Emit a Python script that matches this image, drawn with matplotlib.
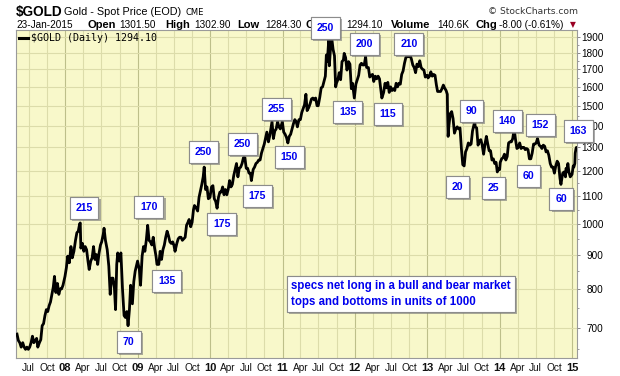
import pandas as pd
import matplotlib
matplotlib.use("Agg")
import matplotlib.pyplot as plt
import matplotlib.patheffects as pe
from matplotlib.lines import Line2D
from matplotlib.ticker import FixedLocator, NullFormatter

# ── gold spot (month-day, price) ────────────────────────────────────────────
gold_2007 = [("05-03", 685), ("05-10", 670), ("05-17", 665), ("05-24", 655), ("06-01", 665),
             ("06-08", 655), ("06-15", 650), ("06-22", 655), ("06-29", 650), ("07-06", 655),
             ("07-13", 665), ("07-20", 680), ("07-27", 665), ("08-03", 670), ("08-10", 675),
             ("08-16", 655), ("08-24", 665), ("08-31", 672), ("09-07", 705), ("09-14", 710),
             ("09-21", 730), ("09-28", 745), ("10-05", 740), ("10-12", 755), ("10-19", 765),
             ("10-26", 785), ("11-02", 805), ("11-08", 835), ("11-15", 790), ("11-23", 815),
             ("11-30", 785), ("12-07", 800), ("12-14", 800), ("12-21", 810), ("12-31", 835)]
gold_2008 = [("01-07", 860), ("01-14", 895), ("01-22", 875), ("01-30", 925), ("02-06", 890),
             ("02-14", 910), ("02-22", 945), ("02-29", 970), ("03-07", 975), ("03-14", 1000),
             ("03-17", 1003), ("03-20", 920), ("03-28", 935), ("04-04", 910), ("04-11", 925),
             ("04-18", 915), ("04-25", 880), ("05-01", 855), ("05-09", 880), ("05-16", 890),
             ("05-23", 925), ("05-30", 885), ("06-06", 900), ("06-13", 870), ("06-20", 905),
             ("06-27", 930), ("07-03", 940), ("07-11", 965), ("07-15", 985), ("07-22", 945),
             ("07-31", 915), ("08-08", 865), ("08-15", 785), ("08-22", 830), ("08-29", 830),
             ("09-05", 805), ("09-11", 745), ("09-17", 870), ("09-22", 905), ("09-30", 880),
             ("10-08", 905), ("10-16", 800), ("10-24", 730), ("10-31", 725), ("11-07", 740),
             ("11-13", 705), ("11-20", 745), ("11-26", 810), ("12-05", 760), ("12-12", 820),
             ("12-19", 850), ("12-31", 880)]
gold_2009 = [("01-09", 855), ("01-15", 810), ("01-23", 895), ("01-30", 925), ("02-06", 910),
             ("02-13", 945), ("02-20", 995), ("02-27", 945), ("03-06", 940), ("03-13", 930),
             ("03-20", 955), ("03-27", 920), ("04-03", 895), ("04-08", 870), ("04-17", 870),
             ("04-24", 910), ("05-01", 885), ("05-08", 915), ("05-15", 930), ("05-22", 955),
             ("05-29", 975), ("06-05", 960), ("06-12", 940), ("06-19", 935), ("06-26", 940),
             ("07-02", 930), ("07-08", 910), ("07-17", 935), ("07-24", 950), ("07-31", 955),
             ("08-07", 955), ("08-14", 945), ("08-21", 950), ("08-28", 955), ("09-04", 995),
             ("09-11", 1005), ("09-17", 1015), ("09-25", 990), ("10-02", 1005), ("10-09", 1050),
             ("10-14", 1065), ("10-23", 1055), ("10-30", 1045), ("11-06", 1095), ("11-13", 1120),
             ("11-20", 1145), ("11-27", 1175), ("12-02", 1215), ("12-09", 1125), ("12-16", 1135),
             ("12-23", 1090), ("12-31", 1095)]
gold_2010 = [("01-08", 1135), ("01-15", 1140), ("01-22", 1090), ("01-29", 1080), ("02-05", 1055),
             ("02-12", 1095), ("02-19", 1115), ("02-26", 1115), ("03-05", 1135), ("03-12", 1105),
             ("03-19", 1125), ("03-26", 1105), ("04-02", 1125), ("04-09", 1160), ("04-16", 1135),
             ("04-23", 1145), ("04-30", 1180), ("05-07", 1205), ("05-14", 1230), ("05-21", 1175),
             ("05-28", 1210), ("06-04", 1215), ("06-11", 1230), ("06-18", 1255), ("06-25", 1255),
             ("07-02", 1210), ("07-09", 1210), ("07-16", 1190), ("07-23", 1190), ("07-28", 1160),
             ("08-06", 1205), ("08-13", 1215), ("08-20", 1230), ("08-27", 1235), ("09-03", 1245),
             ("09-10", 1245), ("09-17", 1275), ("09-24", 1295), ("10-01", 1315), ("10-08", 1345),
             ("10-14", 1370), ("10-22", 1325), ("10-29", 1355), ("11-05", 1395), ("11-09", 1420),
             ("11-16", 1340), ("11-23", 1375), ("11-30", 1385), ("12-07", 1420), ("12-14", 1395),
             ("12-21", 1385), ("12-31", 1420)]
gold_2011 = [("01-07", 1370), ("01-14", 1360), ("01-21", 1345), ("01-28", 1320), ("02-04", 1350),
             ("02-11", 1360), ("02-18", 1385), ("02-25", 1410), ("03-04", 1430), ("03-11", 1420),
             ("03-17", 1395), ("03-25", 1430), ("04-01", 1430), ("04-08", 1465), ("04-15", 1485),
             ("04-22", 1505), ("04-29", 1560), ("05-05", 1475), ("05-13", 1490), ("05-20", 1510),
             ("05-27", 1535), ("06-03", 1540), ("06-10", 1530), ("06-17", 1540), ("06-24", 1500),
             ("06-30", 1500), ("07-08", 1545), ("07-15", 1595), ("07-22", 1600), ("07-29", 1630),
             ("08-05", 1660), ("08-10", 1785), ("08-15", 1745), ("08-22", 1880), ("08-25", 1720),
             ("08-31", 1825), ("09-06", 1895), ("09-13", 1820), ("09-20", 1780), ("09-26", 1600),
             ("09-30", 1620), ("10-07", 1640), ("10-14", 1680), ("10-21", 1640), ("10-28", 1745),
             ("11-04", 1755), ("11-08", 1795), ("11-15", 1770), ("11-22", 1695), ("11-30", 1745),
             ("12-07", 1730), ("12-14", 1590), ("12-20", 1620), ("12-29", 1540)]
gold_2012 = [("01-06", 1615), ("01-13", 1640), ("01-20", 1665), ("01-27", 1725), ("02-03", 1735),
             ("02-10", 1725), ("02-17", 1725), ("02-24", 1775), ("02-29", 1710), ("03-09", 1710),
             ("03-16", 1655), ("03-23", 1665), ("03-30", 1670), ("04-05", 1630), ("04-13", 1660),
             ("04-20", 1645), ("04-27", 1660), ("05-04", 1645), ("05-11", 1585), ("05-16", 1540),
             ("05-25", 1570), ("06-01", 1620), ("06-08", 1595), ("06-15", 1625), ("06-22", 1570),
             ("06-29", 1600), ("07-06", 1580), ("07-13", 1590), ("07-20", 1580), ("07-27", 1620),
             ("08-03", 1600), ("08-10", 1620), ("08-17", 1615), ("08-24", 1670), ("08-31", 1690),
             ("09-07", 1735), ("09-14", 1770), ("09-21", 1775), ("09-28", 1775), ("10-04", 1790),
             ("10-12", 1760), ("10-19", 1725), ("10-26", 1710), ("11-02", 1680), ("11-09", 1730),
             ("11-16", 1715), ("11-23", 1750), ("11-30", 1710), ("12-07", 1700), ("12-14", 1695),
             ("12-21", 1655), ("12-31", 1665)]
gold_2013 = [("01-04", 1650), ("01-11", 1660), ("01-18", 1685), ("01-25", 1660), ("02-01", 1670),
             ("02-08", 1665), ("02-15", 1610), ("02-21", 1575), ("03-01", 1575), ("03-08", 1575),
             ("03-15", 1590), ("03-22", 1610), ("03-28", 1595), ("04-05", 1580), ("04-11", 1560),
             ("04-12", 1480), ("04-15", 1350), ("04-19", 1400), ("04-26", 1460), ("05-03", 1470),
             ("05-10", 1435), ("05-17", 1365), ("05-24", 1385), ("05-31", 1395), ("06-07", 1385),
             ("06-14", 1390), ("06-21", 1295), ("06-28", 1225), ("07-05", 1220), ("07-12", 1280),
             ("07-19", 1295), ("07-26", 1320), ("08-02", 1310), ("08-09", 1315), ("08-16", 1375),
             ("08-27", 1420), ("08-30", 1395), ("09-06", 1390), ("09-13", 1310), ("09-20", 1330),
             ("09-27", 1335), ("10-04", 1310), ("10-11", 1270), ("10-18", 1315), ("10-25", 1350),
             ("11-01", 1315), ("11-08", 1285), ("11-15", 1285), ("11-22", 1245), ("11-29", 1250),
             ("12-06", 1230), ("12-13", 1235), ("12-19", 1195), ("12-27", 1210), ("12-31", 1205)]
gold_2014 = [("01-03", 1235), ("01-10", 1250), ("01-17", 1255), ("01-24", 1270), ("01-31", 1245),
             ("02-07", 1260), ("02-14", 1320), ("02-21", 1325), ("02-28", 1325), ("03-07", 1340),
             ("03-14", 1385), ("03-21", 1335), ("03-28", 1295), ("04-04", 1300), ("04-11", 1320),
             ("04-18", 1295), ("04-25", 1300), ("05-02", 1300), ("05-09", 1290), ("05-16", 1295),
             ("05-23", 1290), ("05-30", 1250), ("06-06", 1250), ("06-13", 1275), ("06-20", 1315),
             ("06-27", 1315), ("07-03", 1320), ("07-10", 1340), ("07-18", 1310), ("07-25", 1305),
             ("08-01", 1295), ("08-08", 1310), ("08-15", 1305), ("08-22", 1280), ("08-29", 1285),
             ("09-05", 1265), ("09-12", 1230), ("09-19", 1215), ("09-26", 1215), ("10-03", 1190),
             ("10-10", 1220), ("10-17", 1240), ("10-24", 1230), ("10-31", 1170), ("11-05", 1145),
             ("11-14", 1190), ("11-21", 1195), ("11-28", 1175), ("12-01", 1210), ("12-05", 1195),
             ("12-10", 1230), ("12-15", 1195), ("12-22", 1175), ("12-31", 1185)]
gold_2015 = [("01-06", 1220), ("01-09", 1215), ("01-14", 1230), ("01-16", 1275), ("01-20", 1295),
             ("01-22", 1300), ("01-23", 1294)]

# speculator net long labels (thousands of contracts) and where the boxes sit
ann_labels = ["215", "70", "170", "135", "250", "175", "250", "175", "255", "150", "250", "135",
              "200", "115", "210", "20", "90", "25", "140", "60", "152", "60", "163"]
ann_dates = ["2008-04-05", "2008-11-17", "2009-02-26", "2009-05-27", "2009-11-28", "2010-03-01",
             "2010-06-13", "2010-08-27", "2010-12-01", "2011-02-04", "2011-08-07", "2011-11-26",
             "2012-02-20", "2012-06-15", "2012-09-29", "2013-06-02", "2013-08-11", "2013-11-30",
             "2014-02-09", "2014-05-26", "2014-07-24", "2014-11-06", "2015-01-31"]
ann_prices = [1056, 667, 1060, 822, 1280, 1000, 1316, 1101, 1484, 1259, 1960, 1469,
              1855, 1458, 1855, 1135, 1474, 1131, 1424, 1179, 1404, 1090, 1376]

y_ticks = [700, 800, 900, 1000, 1100, 1200, 1300, 1400, 1500, 1600, 1700, 1800, 1900]

years = {2007: gold_2007, 2008: gold_2008, 2009: gold_2009, 2010: gold_2010, 2011: gold_2011,
         2012: gold_2012, 2013: gold_2013, 2014: gold_2014, 2015: gold_2015}
dates = pd.to_datetime([f"{y}-{md}" for y, rows in years.items() for md, _ in rows])
price = [p for rows in years.values() for _, p in rows]

W, H = 620, 376
BG = "#F8F8CA"
BLUE = "#0000EE"


def fp(x, y):
    return x / W, 1 - y / H


fig = plt.figure(figsize=(W / 100, H / 100), dpi=100)
ax = fig.add_axes([16 / W, 1 - 358 / H, 561 / W, 328 / H])
ax.set_zorder(5)   # boxes sit over the header text, as on the original
ax.set_facecolor(BG)
ax.set_yscale("log")
ax.set_ylim(631, 1945)
ax.set_xlim(pd.Timestamp("2007-04-28"), pd.Timestamp("2015-01-25"))

# grid: quarters (years darker) + every 100 on price
quarters = pd.date_range("2007-07-01", "2015-01-01", freq="QS-JAN")
for q in quarters:
    ax.axvline(q, color="#BDBF8A" if q.month == 1 else "#DCDCAA", lw=0.8, zorder=0)
for v in y_ticks:
    ax.axhline(v, color="#DCDCAA", lw=0.8, zorder=0)

ax.plot(dates, price, color="black", lw=2.0, zorder=3)

# x axis labels
ax.xaxis.set_major_locator(FixedLocator([matplotlib.dates.date2num(q) for q in quarters]))
ax.set_xticklabels([f"{q.year % 100:02d}" if q.month == 1 else q.strftime("%b") for q in quarters])
for q, lab in zip(quarters, ax.get_xticklabels()):
    lab.set_family("Liberation Sans")
    if q.month == 1:
        lab.set_fontweight("bold"); lab.set_fontsize(8)
    else:
        lab.set_fontsize(7.3)
ax.tick_params(axis="x", length=0, pad=3.5, colors="#111111")

# y axis on right
ax.yaxis.tick_right()
ax.yaxis.set_major_locator(FixedLocator(y_ticks))
ax.yaxis.set_minor_locator(FixedLocator([v + 50 for v in y_ticks[:-1]] + [650]))
ax.yaxis.set_minor_formatter(NullFormatter())
ax.set_yticklabels([str(v) for v in y_ticks])
for lab in ax.get_yticklabels():
    lab.set_ha("right"); lab.set_family("Liberation Sans"); lab.set_fontsize(7.2)
ax.tick_params(axis="y", which="major", length=2.5, width=0.7, color="#888888", pad=16.5)
ax.tick_params(axis="y", which="minor", length=1.5, width=0.6, color="#888888")
for s in ax.spines.values():
    s.set_color("#9A9A9A"); s.set_linewidth(0.8)

# boxed net-long numbers
shadow = [pe.withSimplePatchShadow(offset=(1.5, -1.5), shadow_rgbFace="#777777", alpha=0.6), pe.Normal()]
for lab, d, p in zip(ann_labels, ann_dates, ann_prices):
    t = ax.annotate(lab, xy=(pd.Timestamp(d), p), ha="center", va="center", fontsize=7.6,
                    fontweight="bold", color=BLUE, family="Liberation Sans", zorder=6,
                    annotation_clip=False,
                    bbox=dict(boxstyle="square,pad=0.55", fc="white", ec="#8C8C8C", lw=0.8))
    t.get_bbox_patch().set_path_effects(shadow)

t = ax.text(0.491, 0.195, "specs net long in a bull and bear market\ntops and bottoms in units of 1000",
            transform=ax.transAxes, ha="left", va="center", fontsize=8.3, fontweight="bold",
            color=BLUE, family="Liberation Sans", linespacing=1.4, zorder=6,
            bbox=dict(boxstyle="square,pad=0.35", fc="white", ec="#8C8C8C", lw=0.8))
t.get_bbox_patch().set_path_effects(shadow)

# legend line inside plot
fig.add_artist(Line2D([19 / W, 28 / W], [1 - 38 / H] * 2, color="black", lw=2.2, transform=fig.transFigure,
                      zorder=6))
fig.text(*fp(31, 38), r"\$GOLD (Daily) 1294.10", family="DejaVu Sans Mono", fontsize=7.2, va="center",
         zorder=6)

# header
fig.text(*fp(16, 12), r"\$GOLD", family="Liberation Sans", fontweight="bold", fontsize=9.8, va="center")
fig.text(*fp(64, 12), "Gold - Spot Price (EOD)", family="Liberation Sans", fontsize=7.8, va="center")
fig.text(*fp(186, 12.5), "CME", family="DejaVu Sans", fontsize=6.0, va="center")
fig.text(*fp(578, 12), "© StockCharts.com", family="DejaVu Sans", fontsize=6.6, va="center",
         ha="right", color="#333333")

header2 = [(16, "23-Jan-2015", False), (88, "Open", True), (119, "1301.50", False),
           (165, "High", True), (194, "1302.90", False), (237, "Low", True),
           (265, "1284.30", False), (306, "Close", True), (346, "1294.10", False),
           (391, "Volume", True), (437, "140.6K", False), (475, "Chg", True),
           (499, "-8.00 (-0.61%)", False)]
for x, s, b in header2:
    fig.text(*fp(x, 24.5), s, family="Liberation Sans", fontsize=8 if b else 7.2,
             fontweight="bold" if b else "normal", va="center")
fig.text(*fp(570, 24.5), "▼", family="DejaVu Sans", fontsize=5.5, va="center", color="#990022")

fig.savefig("out.png", dpi=100)
